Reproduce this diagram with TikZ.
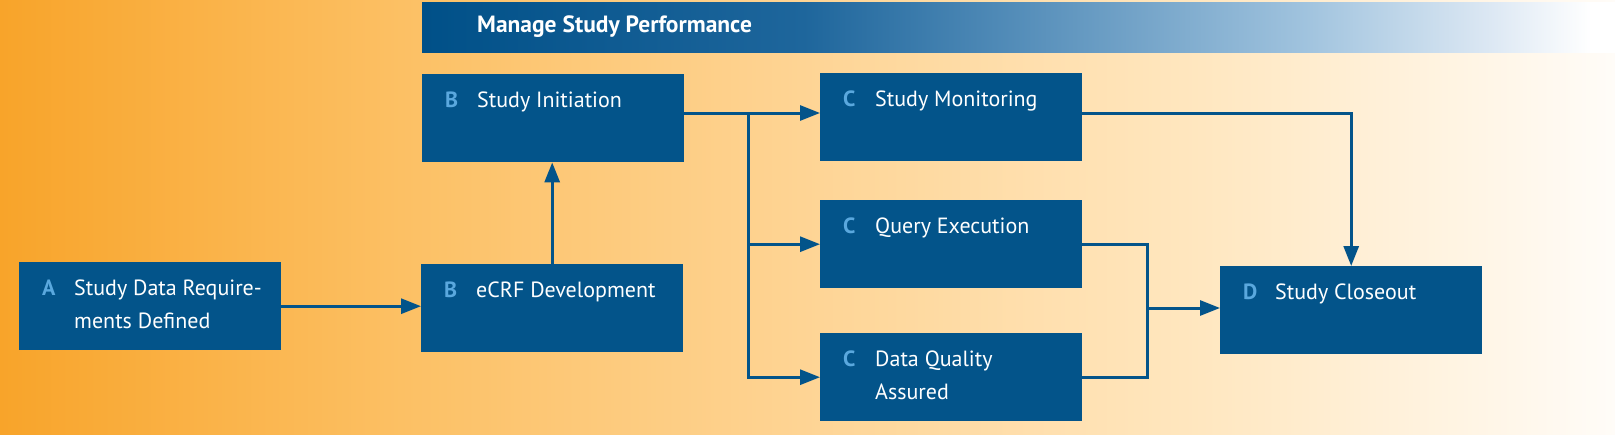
\documentclass[tikz,border=0pt]{standalone}
\usepackage{fontspec}
\setmainfont{PT Sans}
\usetikzlibrary{arrows.meta}
\definecolor{boxblue}{RGB}{3,84,138}
\definecolor{letblue}{RGB}{90,168,222}
\definecolor{o0}{RGB}{248,164,42}
\definecolor{o1}{RGB}{252,192,100}
\definecolor{o2}{RGB}{254,212,148}
\definecolor{o3}{RGB}{255,231,192}
\definecolor{o4}{RGB}{255,252,248}
\definecolor{h0}{RGB}{0,80,136}
\definecolor{h1}{RGB}{30,102,156}
\definecolor{h2}{RGB}{78,137,182}
\definecolor{h3}{RGB}{160,195,222}
\definecolor{h4}{RGB}{222,233,244}
\pgfdeclarehorizontalshading{bgshade}{100bp}{color(0bp)=(o0); color(25bp)=(o0); color(37.4bp)=(o1); color(49.8bp)=(o2); color(62.2bp)=(o3); color(75bp)=(o4); color(100bp)=(o4)}
\pgfdeclarehorizontalshading{hdshade}{100bp}{color(0bp)=(h0); color(25bp)=(h0); color(41bp)=(h1); color(49bp)=(h2); color(62bp)=(h3); color(70bp)=(h4); color(74bp)=(white); color(100bp)=(white)}
\tikzset{
  proc/.style={rectangle, fill=boxblue, minimum width=262pt, minimum height=88pt, anchor=north west, inner sep=0pt},
  lettr/.style={anchor=base west, inner sep=0pt, text=letblue, font=\fontsize{22}{33}\selectfont\bfseries},
  txt/.style={anchor=base west, inner sep=0pt, text=white, align=left, font=\fontsize{22}{33}\selectfont},
  hdr/.style={anchor=west, inner sep=0pt, text=white, font=\fontsize{23.5}{28}\selectfont\bfseries},
  conn/.style={draw=boxblue, line width=3pt},
  arr/.style={conn, -{Triangle[length=20pt,width=15pt]}}
}
\begin{document}
\begin{tikzpicture}[x=1pt,y=-1pt]
\useasboundingbox (0,0) rectangle (1615,434);
\shade[shading=bgshade] (0,0) rectangle (1615,434);
\shade[shading=hdshade] (422,2) rectangle (1615,52);
\node[hdr] (hd) at (477,27) {Manage Study Performance};

\node[proc] (A) at (19,262) {};
\node[proc] (B2) at (421,264) {};
\node[proc] (B1) at (422,74) {};
\node[proc] (C1) at (820,73) {};
\node[proc] (C2) at (820,200) {};
\node[proc] (C3) at (820,333) {};
\node[proc] (D) at (1220,266) {};

\node[lettr] (Al) at ([shift={(23,33)}]A.north west) {A};
\node[txt] (At) at ([shift={(55,66)}]A.north west) {Study Data Require-\\ments Defined};
\node[lettr] (B2l) at ([shift={(23,33)}]B2.north west) {B};
\node[txt] (B2t) at ([shift={(55,33)}]B2.north west) {eCRF Development};
\node[lettr] (B1l) at ([shift={(23,33)}]B1.north west) {B};
\node[txt] (B1t) at ([shift={(55,33)}]B1.north west) {Study Initiation};
\node[lettr] (C1l) at ([shift={(23,33)}]C1.north west) {C};
\node[txt] (C1t) at ([shift={(55,33)}]C1.north west) {Study Monitoring};
\node[lettr] (C2l) at ([shift={(23,33)}]C2.north west) {C};
\node[txt] (C2t) at ([shift={(55,33)}]C2.north west) {Query Execution};
\node[lettr] (C3l) at ([shift={(23,33)}]C3.north west) {C};
\node[txt] (C3t) at ([shift={(55,66)}]C3.north west) {Data Quality\\Assured};
\node[lettr] (Dl) at ([shift={(23,33)}]D.north west) {D};
\node[txt] (Dt) at ([shift={(55,33)}]D.north west) {Study Closeout};

\coordinate (br) at (748,113);
\coordinate (m) at (1147,308);

\draw[arr] (A.east) -- (A.east -| B2.west);
\draw[arr] (B2.north) -- (B2.north |- B1.south);
\draw[arr] (B1.east |- br) -- (br) -- (br -| C1.west);
\draw[arr] (br) |- (C2.west);
\draw[arr] (br) |- (C3.west);
\draw[conn] (C2.east) -| (m);
\draw[conn] (C3.east) -| (m);
\draw[arr] (m) -- (m -| D.west);
\draw[arr] (C1.east |- br) -| (D.north);
\end{tikzpicture}
\end{document}
